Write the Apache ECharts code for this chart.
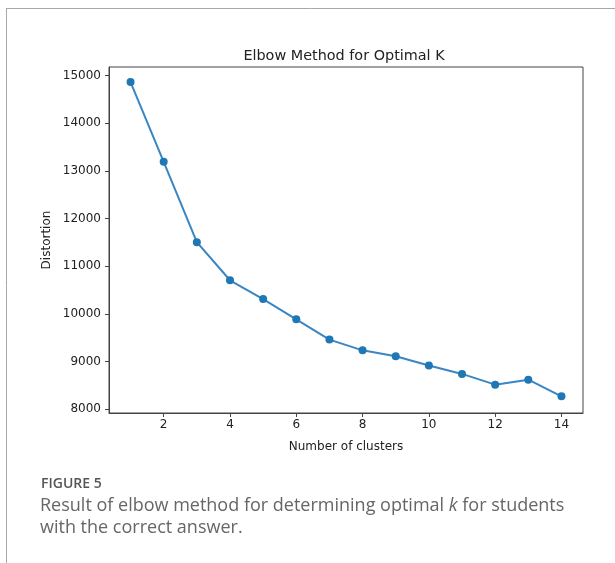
<!DOCTYPE html>
<html>
<head>
<meta charset="utf-8">
<script src="https://cdn.jsdelivr.net/npm/echarts@6/dist/echarts.min.js"></script>
<style>
html,body{margin:0;padding:0;background:#fff;}
#c{width:615px;height:563px;}
</style>
</head>
<body>
<div id="c"></div>
<script>
const clusters = [1,2,3,4,5,6,7,8,9,10,11,12,13,14];
const distortion = [14865,13190,11505,10705,10310,9885,9460,9235,9110,8915,8740,8515,8620,8270];
const xTicks = [2,4,6,8,10,12,14];
const yTicks = [8000,9000,10000,11000,12000,13000,14000,15000];

const chart = echarts.init(document.getElementById('c'), null, {renderer:'canvas'});
const font = '"DejaVu Sans"';
chart.setOption({
  animation:false,
  backgroundColor:'#fff',
  title:{
    text:'Elbow Method for Optimal K',
    left:339, top:44, textAlign:'center',
    textStyle:{fontFamily:font,fontSize:14.4,fontWeight:'normal',color:'#222'}
  },
  grid:{left:109,right:32,top:67,bottom:150,show:true,borderColor:'#444',borderWidth:1,backgroundColor:'transparent'},
  xAxis:{
    type:'value',min:0.35,max:14.65,
    name:'Number of clusters',nameLocation:'middle',nameGap:28,
    nameTextStyle:{fontFamily:font,fontSize:12,color:'#222'},
    axisLine:{show:true,onZero:false,lineStyle:{color:'#444',width:1}},
    axisTick:{show:true,length:4,customValues:xTicks,lineStyle:{color:'#444'}},
    axisLabel:{customValues:xTicks,fontFamily:font,fontSize:12,color:'#222',margin:6},
    splitLine:{show:false}
  },
  yAxis:{
    type:'value',min:7920,max:15180,
    name:'Distortion',nameLocation:'middle',nameGap:56,nameRotate:90,nameMoveOverlap:false,
    nameTextStyle:{fontFamily:font,fontSize:12,color:'#222'},
    axisLine:{show:true,onZero:false,lineStyle:{color:'#444',width:1}},
    axisTick:{show:true,length:4,customValues:yTicks,lineStyle:{color:'#444'}},
    axisLabel:{customValues:yTicks,formatter:v=>String(v),fontFamily:font,fontSize:12,color:'#222',margin:8},
    splitLine:{show:false}
  },
  series:[{
    type:'line',
    data:clusters.map((k,i)=>[k,distortion[i]]),
    symbol:'circle',symbolSize:8,
    lineStyle:{color:'#3a86c2',width:2},
    itemStyle:{color:'#1f77b4'}
  }],
  graphic:[
    {type:'line',shape:{x1:6,y1:8.5,x2:615,y2:8.5},style:{stroke:'#a8a8a8',lineWidth:1}},
    {type:'line',shape:{x1:6.5,y1:8,x2:6.5,y2:563},style:{stroke:'#a8a8a8',lineWidth:1}},
    {type:'text',left:41,top:477,style:{text:'FIGURE 5',font:'600 14px "Open Sans"',fill:'#555'}},
    {type:'text',left:40,top:497,style:{
      text:'{n|Result of elbow method for determining optimal }{i|k}{n| for students}\n{n|with the correct answer.}',
      rich:{
        n:{fontFamily:'Open Sans',fontSize:18,fill:'#666',color:'#666',lineHeight:22},
        i:{fontFamily:'Open Sans',fontStyle:'italic',fontSize:18,fill:'#666',color:'#666',lineHeight:22}
      }
    }}
  ]
});
</script>
</body>
</html>
